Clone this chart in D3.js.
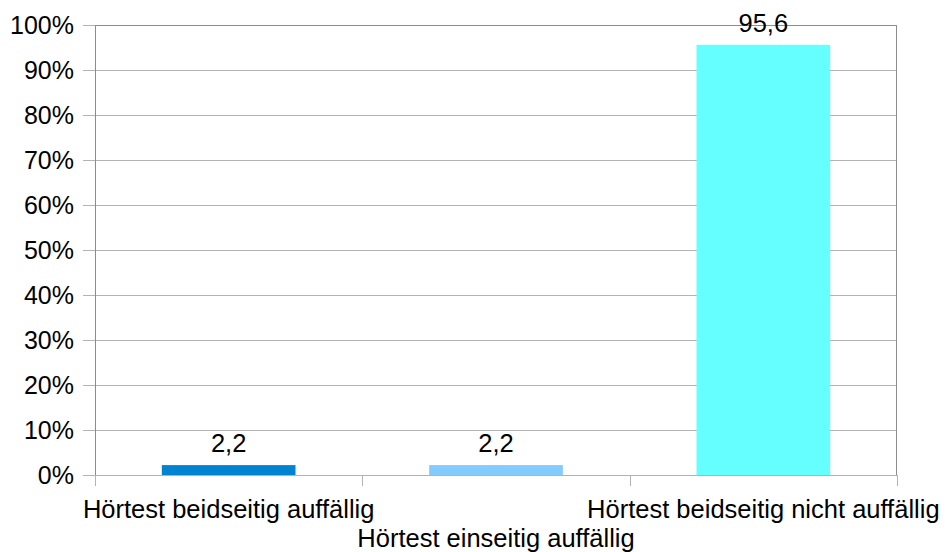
<!DOCTYPE html>
<html>
<head>
<meta charset="utf-8">
<script src="https://cdn.jsdelivr.net/npm/d3@7"></script>
<style>
  html, body { margin: 0; padding: 0; background: #fff; }
  svg { display: block; font-family: "Liberation Sans", Arial, sans-serif; }
</style>
</head>
<body>
<svg id="chart" width="945" height="552"></svg>
<script>
// Hörtest results (percent of children)
const categories = ["Hörtest beidseitig auffällig", "Hörtest einseitig auffällig", "Hörtest beidseitig nicht auffällig"];
const values = [2.2, 2.2, 95.6];
const valueLabels = ["2,2", "2,2", "95,6"];
const barColors = ["#0084d1", "#83caff", "#66ffff"];
const yTicks = [0, 10, 20, 30, 40, 50, 60, 70, 80, 90, 100];

const svg = d3.select("#chart");
const plot = { left: 95, right: 897, top: 25, bottom: 475 };

const x = d3.scaleBand()
  .domain(categories)
  .range([plot.left, plot.right])
  .paddingInner(0.5)
  .paddingOuter(0.25);

const y = d3.scaleLinear()
  .domain([0, 100])
  .range([plot.bottom, plot.top]);

// horizontal gridlines with short ticks to the left
const yAxis = d3.axisLeft(y)
  .tickValues(yTicks)
  .tickFormat(d => d + "%")
  .tickSize(12)
  .tickPadding(9);

const gy = svg.append("g")
  .attr("transform", `translate(${plot.left},0)`)
  .call(yAxis);
gy.select(".domain").remove();
gy.selectAll(".tick line").attr("stroke", "#b3b3b3").attr("stroke-width", 1);
gy.selectAll(".tick text")
  .attr("fill", "#000")
  .style("font-size", "25px")
  .style("font-family", "'Liberation Sans', Arial, sans-serif");

svg.append("g")
  .selectAll("line")
  .data(yTicks)
  .join("line")
  .attr("x1", plot.left)
  .attr("x2", plot.right)
  .attr("y1", d => Math.round(y(d)) + 0.5)
  .attr("y2", d => Math.round(y(d)) + 0.5)
  .attr("stroke", "#b3b3b3")
  .attr("stroke-width", 1);

// category boundary ticks along the bottom
const boundaries = d3.range(categories.length + 1).map(i => plot.left + i * (plot.right - plot.left) / categories.length);
svg.append("g")
  .selectAll("line")
  .data(boundaries)
  .join("line")
  .attr("x1", d => Math.round(d) + 0.5)
  .attr("x2", d => Math.round(d) + 0.5)
  .attr("y1", plot.bottom)
  .attr("y2", plot.bottom + 11)
  .attr("stroke", "#b3b3b3")
  .attr("stroke-width", 1);

// bars
svg.append("g")
  .selectAll("rect")
  .data(values)
  .join("rect")
  .attr("x", (d, i) => x(categories[i]))
  .attr("width", x.bandwidth())
  .attr("y", d => y(d))
  .attr("height", d => y(0) - y(d))
  .attr("fill", (d, i) => barColors[i]);

// plot frame: left, top and right edges
svg.append("path")
  .attr("d", `M${plot.left + 0.5},${plot.bottom} V${plot.top + 0.5} H${plot.right - 0.5} V${plot.bottom}`)
  .attr("fill", "none")
  .attr("stroke", "#8c8c8c")
  .attr("stroke-width", 1);

// value labels above the bars
svg.append("g")
  .selectAll("text")
  .data(values)
  .join("text")
  .attr("x", (d, i) => x(categories[i]) + x.bandwidth() / 2)
  .attr("y", d => y(d) - 13)
  .attr("text-anchor", "middle")
  .style("font-size", "25.5px")
  .attr("fill", "#000")
  .text((d, i) => valueLabels[i]);

// category labels, middle one staggered onto a second line
svg.append("g")
  .selectAll("text")
  .data(categories)
  .join("text")
  .attr("x", d => x(d) + x.bandwidth() / 2)
  .attr("y", (d, i) => i % 2 === 1 ? 547 : 518)
  .attr("text-anchor", "middle")
  .style("font-size", "25.5px")
  .attr("fill", "#000")
  .text(d => d);
</script>
</body>
</html>
